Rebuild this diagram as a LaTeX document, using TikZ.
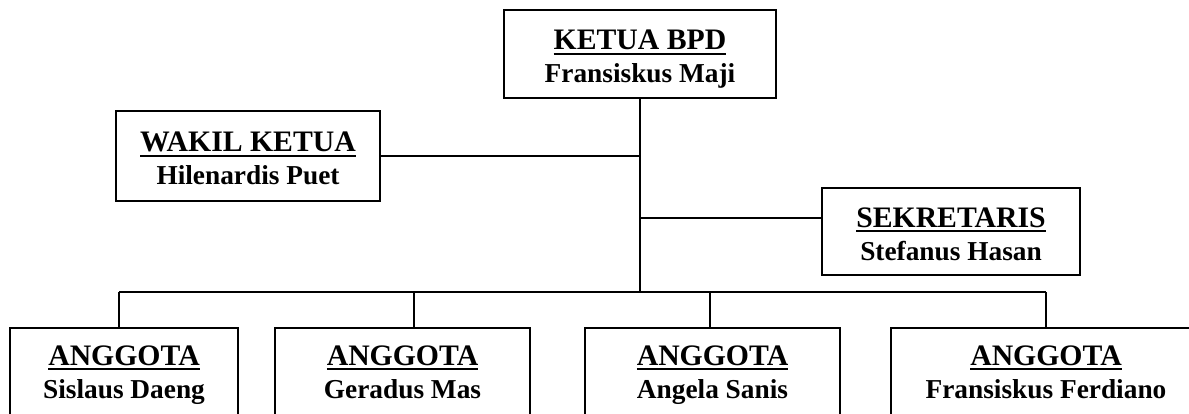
\documentclass[tikz,border=0pt]{standalone}
\usepackage{fontspec}
\setmainfont{Liberation Serif}
\usepackage{tikz}
\newcommand{\jabatan}[1]{\leavevmode\setbox0=\hbox{\fontsize{22.3}{24.75}\selectfont #1}\rlap{\rule[-4pt]{\wd0}{1.5pt}}\box0}

\begin{document}
\begin{tikzpicture}[
                x=0.75pt, y=-0.75pt,
                box/.style={rectangle, draw, line width=1.5pt, inner sep=0pt, align=center, text height=44pt, text depth=1.2pt, font=\fontsize{20.5}{24.75}\selectfont\bfseries},
                anggota/.style={box, minimum height=67.5pt, text depth=6.5pt},
                link/.style={line width=1.4pt}
            ]
                \clip (0,0) rectangle (1189,414);

                \node[box, minimum width=204pt, minimum height=66pt] (ketua) at (640,54) {\jabatan{KETUA BPD}\\Fransiskus Maji};
                \node[box, minimum width=198pt, minimum height=67.5pt] (wakil) at (248,156) {\jabatan{WAKIL KETUA}\\Hilenardis Puet};
                \node[box, minimum width=193.5pt, minimum height=65.25pt] (sekretaris) at (951,231.5) {\jabatan{SEKRETARIS}\\Stefanus Hasan};

                \node[anggota, minimum width=171pt] (a1) at (124,373) {\jabatan{ANGGOTA}\\Sislaus Daeng};
                \node[anggota, minimum width=191.25pt] (a2) at (402.5,373) {\jabatan{ANGGOTA}\\Geradus Mas};
                \node[anggota, minimum width=191.25pt] (a3) at (712.5,373) {\jabatan{ANGGOTA}\\Angela Sanis};
                \node[anggota, minimum width=232.5pt] (a4) at (1046,373) {\jabatan{ANGGOTA}\\Fransiskus Ferdiano};

                % garis bus anggota
                \coordinate (j1) at (119,292);
                \coordinate (j2) at (414,292);
                \coordinate (j3) at (710,292);
                \coordinate (j4) at (1046,292);

                \draw[link] (ketua.south) -- (ketua.south |- j1);
                \draw[link] (wakil.east) -- (wakil.east -| ketua.south);
                \draw[link] ([yshift=10pt]sekretaris.west) -- ([yshift=10pt]sekretaris.west -| ketua.south);
                \draw[link] (j1) -- (j4);
                \foreach \i in {1,...,4}
                    \draw[link] (j\i) -- (j\i |- a\i.north);
            \end{tikzpicture}
\end{document}
